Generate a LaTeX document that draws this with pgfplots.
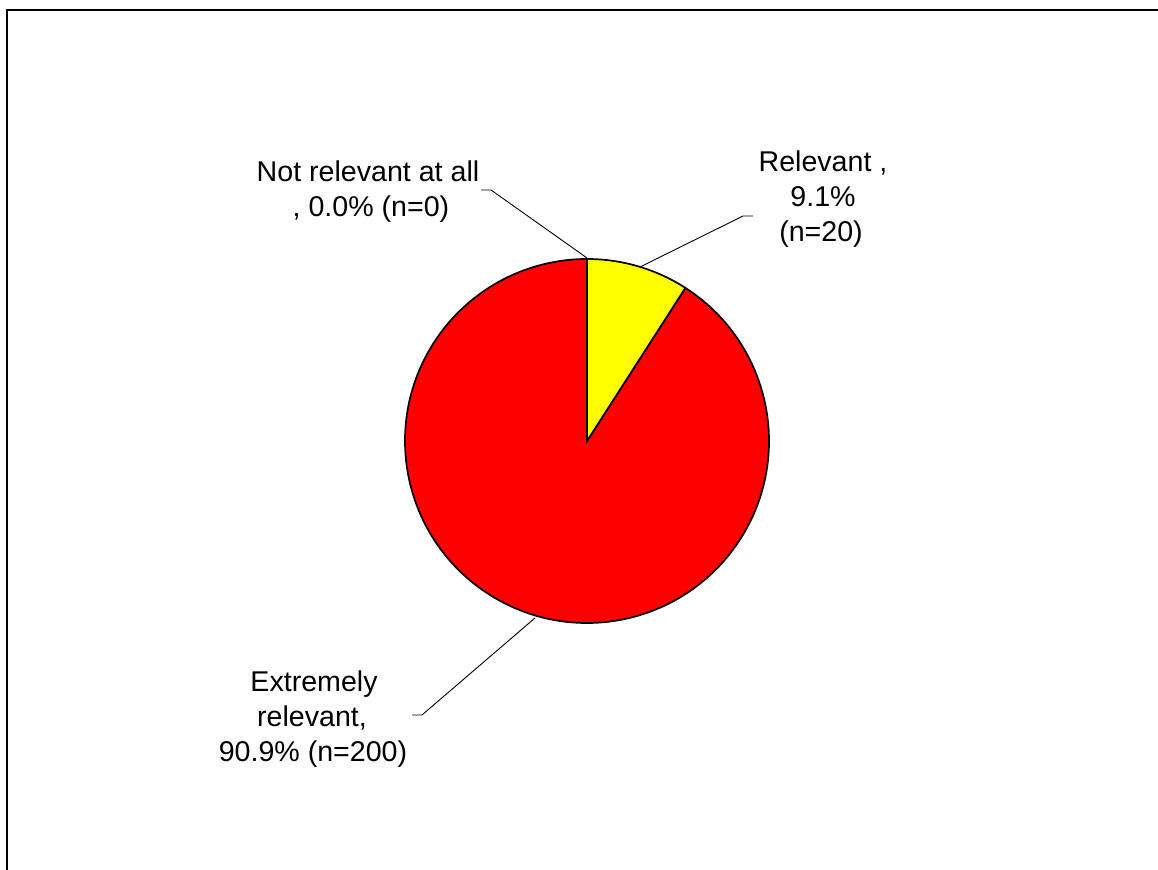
\documentclass[border=0pt]{standalone}
\usepackage{pgfplots}
\pgfplotsset{compat=1.18}
\usepackage{pgfplotstable}
\usepackage{fontspec}
\setmainfont{Liberation Sans}
\definecolor{pieyellow}{RGB}{255,255,0}
\definecolor{piered}{RGB}{255,0,0}

% Pie data: category, count
\pgfplotstableread{
label n
Relevant 20
Extremely 200
NotRelevant 0
}\piedata

\begin{document}
\begin{tikzpicture}[font=\fontsize{14.3}{17.5}\selectfont]
\pgfplotstablegetelem{0}{n}\of\piedata \pgfmathsetmacro{\nA}{\pgfplotsretval}
\pgfplotstablegetelem{1}{n}\of\piedata \pgfmathsetmacro{\nB}{\pgfplotsretval}
\pgfplotstablegetelem{2}{n}\of\piedata \pgfmathsetmacro{\nC}{\pgfplotsretval}
\pgfmathsetmacro{\tot}{\nA+\nB+\nC}
\pgfmathsetmacro{\fA}{\nA/\tot}
\pgfmathsetmacro{\fB}{\nB/\tot}
\pgfmathsetmacro{\aA}{90-360*\fA}
\pgfmathsetmacro{\aB}{\aA-360*\fB}
\begin{axis}[
  width=579pt, height=435pt, scale only axis,
  xmin=0, xmax=1158, ymin=0, ymax=870, y dir=reverse,
  hide axis, clip=false,
]
% frame
\draw[line width=1.1pt, black] (axis cs:7,870) -- (axis cs:7,10) -- (axis cs:1158,10);
% slices
\fill[piered, draw=black, line width=0.85pt] (axis cs:587,441) -- ++(\aA:91pt) arc[start angle=\aA, end angle=\aB, radius=91pt] -- cycle;
\fill[pieyellow, draw=black, line width=0.85pt] (axis cs:587,441) -- ++(90:91pt) arc[start angle=90, end angle=\aA, radius=91pt] -- cycle;
% leader lines
\draw[line width=0.45pt] (axis cs:481,190) -- (axis cs:491,190) -- (axis cs:587,258);
\draw[line width=0.45pt] (axis cs:640,267) -- (axis cs:743,216) -- (axis cs:753,216);
\draw[line width=0.45pt] (axis cs:535,618) -- (axis cs:422,715) -- (axis cs:412,715);
% labels
\node[anchor=base] at (axis cs:368,182) {Not relevant at all};
\node[anchor=base] at (axis cs:371,217) {, 0.0\% (n=0)};
\node[anchor=base] at (axis cs:823,172) {Relevant ,};
\node[anchor=base] at (axis cs:823,207) {9.1\%};
\node[anchor=base] at (axis cs:821,242) {(n=20)};
\node[anchor=base] at (axis cs:314,692) {Extremely};
\node[anchor=base] at (axis cs:312,727) {relevant,};
\node[anchor=base] at (axis cs:313,762) {90.9\% (n=200)};
\end{axis}
\pgfresetboundingbox
\useasboundingbox (current axis.south west) rectangle (current axis.north east);
\end{tikzpicture}
\end{document}
